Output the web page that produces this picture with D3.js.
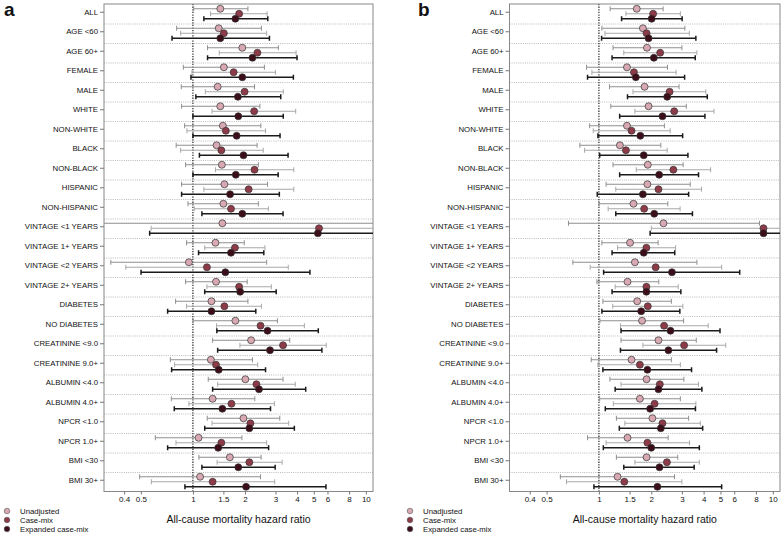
<!DOCTYPE html>
<html><head><meta charset="utf-8">
<script src="https://cdn.jsdelivr.net/npm/d3@7"></script>
<style>body{margin:0;background:#fff}svg{display:block;font-family:"Liberation Sans",Arial,sans-serif}</style>
</head><body><svg id="c" width="783" height="534"></svg>
<script>
const categories = ["ALL","AGE <60","AGE 60+","FEMALE","MALE","WHITE","NON-WHITE","BLACK","NON-BLACK","HISPANIC","NON-HISPANIC","VINTAGE <1 YEARS","VINTAGE 1+ YEARS","VINTAGE <2 YEARS","VINTAGE 2+ YEARS","DIABETES","NO DIABETES","CREATININE <9.0","CREATININE 9.0+","ALBUMIN <4.0","ALBUMIN 4.0+","NPCR <1.0","NPCR 1.0+","BMI <30","BMI 30+"];
const seriesNames = ["Unadjusted","Case-mix","Expanded case-mix"];
const tickValues = [0.4,0.5,1,1.5,2,3,4,5,6,8,10];
const axisTitle = "All-cause mortality hazard ratio";
// [hazard ratio, lower CI, upper CI]
const aUnadjusted = [[1.44,1.01,2.08],[1.41,0.805,2.49],[1.93,1.215,3.12],[1.51,0.88,2.59],[1.39,0.856,2.27],[1.44,0.86,2.44],[1.49,0.895,2.47],[1.37,0.80,2.35],[1.47,0.907,2.39],[1.52,0.86,2.70],[1.50,0.936,2.39],[1.48,0.2,20],[1.35,0.919,1.98],[0.948,0.335,2.67],[1.36,0.907,2.06],[1.28,0.794,2.08],[1.76,1.0,3.08],[2.17,1.30,3.63],[1.27,0.74,2.21],[2.01,1.226,3.32],[1.30,0.75,2.28],[1.96,1.21,3.18],[1.078,0.606,1.92],[1.635,1.083,2.48],[1.10,0.492,2.46]];
const aCaseMix = [[1.85,1.265,2.685],[1.51,0.849,2.67],[2.36,1.42,3.95],[1.72,0.987,3.0],[1.99,1.18,3.33],[2.26,1.29,3.93],[1.55,0.923,2.63],[1.46,0.849,2.55],[2.27,1.35,3.83],[2.10,1.157,3.83],[1.66,1.018,2.73],[5.36,0.573,15],[1.75,1.17,2.61],[1.205,0.409,3.56],[1.85,1.205,2.84],[1.52,0.919,2.49],[2.46,1.37,4.41],[3.32,1.87,5.90],[1.36,0.784,2.37],[2.33,1.39,3.91],[1.67,0.948,2.96],[2.15,1.29,3.58],[1.46,0.798,2.67],[2.12,1.38,3.28],[1.30,0.575,2.97]];
const aExpanded = [[1.76,1.157,2.71],[1.44,0.757,2.77],[2.21,1.215,4.0],[1.93,0.974,3.81],[1.82,1.04,3.22],[1.83,1.0,3.33],[1.79,1.0,3.19],[1.96,1.09,3.55],[1.77,1.0,3.11],[1.64,0.86,3.16],[1.93,1.127,3.32],[5.28,0.562,15],[1.66,1.078,2.57],[1.54,0.501,4.75],[1.875,1.17,3.03],[1.28,0.714,2.31],[2.70,1.375,5.31],[2.79,1.39,5.57],[1.41,0.753,2.63],[2.41,1.30,4.49],[1.48,0.78,2.81],[2.12,1.17,3.86],[1.40,0.714,2.74],[1.83,1.127,2.99],[2.03,0.899,5.88]];
const bUnadjusted = [[1.65,1.16,2.34],[1.79,1.04,3.12],[1.89,1.205,3.0],[1.45,0.849,2.48],[1.83,1.15,2.89],[1.93,1.17,3.18],[1.45,0.884,2.38],[1.32,0.777,2.27],[1.91,1.205,3.05],[1.90,1.10,3.35],[1.58,1.0,2.49],[2.35,0.668,8.38],[1.51,1.04,2.19],[1.61,0.708,3.66],[1.46,0.974,2.21],[1.66,1.054,2.61],[1.77,1.013,3.07],[2.20,1.34,3.63],[1.54,0.903,2.61],[1.88,1.157,3.08],[1.72,1.01,2.94],[2.03,1.26,3.28],[1.46,0.86,2.50],[1.88,1.26,2.84],[1.28,0.60,2.72]];
const bCaseMix = [[2.05,1.43,2.94],[1.88,1.083,3.31],[2.25,1.39,3.66],[1.59,0.911,2.78],[2.55,1.57,4.12],[2.71,1.61,4.59],[1.54,0.927,2.57],[1.43,0.827,2.47],[2.68,1.64,4.39],[2.20,1.25,3.89],[1.82,1.13,2.93],[8.84,2.0,15],[1.875,1.28,2.76],[2.12,0.891,5.08],[1.875,1.24,2.86],[1.91,1.20,3.04],[2.37,1.33,4.25],[3.09,1.79,5.36],[1.72,0.987,2.94],[2.24,1.34,3.74],[2.09,1.21,3.61],[2.32,1.41,3.83],[1.90,1.10,3.32],[2.46,1.61,3.78],[1.40,0.651,3.0]];
const bExpanded = [[2.01,1.35,3.01],[1.93,1.036,3.61],[2.07,1.19,3.58],[1.63,0.86,3.11],[2.47,1.46,4.2],[2.32,1.316,4.07],[1.73,0.987,3.03],[1.81,1.01,3.25],[2.22,1.316,3.74],[1.79,0.978,3.28],[2.08,1.25,3.45],[8.84,1.97,15],[1.81,1.19,2.73],[2.63,1.064,6.45],[1.875,1.19,2.96],[1.75,1.04,2.92],[2.58,1.34,4.97],[2.51,1.33,4.75],[1.90,1.054,3.41],[2.20,1.24,3.91],[1.97,1.088,3.59],[2.27,1.31,3.95],[2.0,1.06,3.78],[2.23,1.39,3.53],[2.17,0.936,5.08]];

const svg = d3.select("#c");
const fills = ["#d8a9b3","#8e3b49","#3b0e19"];
const lineCols = ["#8f8f8f","#a8a8a8","#1a1a1a"];
const lineW = [1,1,1.5];
const offsets = [-5,0,5];
const domain = [0.306, 11];

function panel(id, letter, left, right, letterX, legendX, data){
  const top = 4, bottom = 491.5;
  const x = d3.scaleLog().domain(domain).range([left,right]);
  const y = d3.scaleBand().domain(categories).range([top,bottom]);
  const g = svg.append("g");
  const cp = "clip"+id;
  svg.append("clipPath").attr("id",cp).append("rect").attr("x",left).attr("y",top).attr("width",right-left).attr("height",bottom-top);
  // separators
  g.selectAll(".sep").data(categories.slice(1)).enter().append("line")
    .attr("x1",left).attr("x2",right).attr("y1",d=>y(d)+0.5).attr("y2",d=>y(d)+0.5)
    .attr("stroke","#aaa").attr("stroke-width",0.8).attr("stroke-dasharray","1,1.2");
  // reference line
  g.append("line").attr("x1",x(1)).attr("x2",x(1)).attr("y1",top).attr("y2",bottom)
    .attr("stroke","#111").attr("stroke-width",1.1).attr("stroke-dasharray","1.3,1.3");
  // frame
  g.append("rect").attr("x",left).attr("y",top).attr("width",right-left).attr("height",bottom-top)
    .attr("fill","none").attr("stroke","#888").attr("stroke-width",1);
  // left axis
  const ya = d3.axisLeft(y).tickSize(4).tickSizeOuter(0);
  const yg = g.append("g").attr("transform",`translate(${left},-1.5)`).call(ya);
  yg.select(".domain").remove();
  yg.selectAll(".tick line").attr("stroke","#777");
  yg.selectAll(".tick text").attr("font-size","7.8px").attr("fill","#111").attr("x",-6);
  // bottom axis
  const xa = d3.axisBottom(x).tickValues(tickValues).tickFormat(d=>String(d)).tickSize(3).tickSizeOuter(0);
  const xg = g.append("g").attr("transform",`translate(0,${bottom})`).call(xa);
  xg.select(".domain").remove();
  xg.selectAll(".tick line").attr("stroke","#777");
  xg.selectAll(".tick text").attr("font-size","8px").attr("fill","#111").attr("dy","0.75em").attr("y",4);
  g.append("text").attr("x",(left+right)/2).attr("y",523).attr("text-anchor","middle")
    .attr("font-size","10.5px").attr("fill","#111").text(axisTitle);
  // marks
  const mg = g.append("g").attr("clip-path",`url(#${cp})`);
  data.forEach((ser,si)=>{
    ser.forEach((d,i)=>{
      const cy = y(categories[i]) + y.bandwidth()/2 + offsets[si];
      const [hr,lo,hi] = d;
      mg.append("line").attr("x1",x(lo)).attr("x2",x(hi)).attr("y1",cy).attr("y2",cy)
        .attr("stroke",lineCols[si]).attr("stroke-width",lineW[si]);
      [lo,hi].forEach(v=>{
        mg.append("line").attr("x1",x(v)).attr("x2",x(v)).attr("y1",cy-2.5).attr("y2",cy+2.5)
          .attr("stroke",lineCols[si]).attr("stroke-width",lineW[si]);
      });
    });
  });
  data.forEach((ser,si)=>{
    ser.forEach((d,i)=>{
      const cy = y(categories[i]) + y.bandwidth()/2 + offsets[si];
      mg.append("circle").attr("cx",x(d[0])).attr("cy",cy).attr("r",3.5)
        .attr("fill",fills[si]).attr("stroke","#333").attr("stroke-width",0.7);
    });
  });
  // panel letter
  svg.append("text").attr("x",letterX).attr("y",16).attr("font-size","19px").attr("font-weight","bold")
    .attr("fill","#111").text(letter);
  // legend
  seriesNames.forEach((s,si)=>{
    const ly = 511 + si*9;
    svg.append("circle").attr("cx",legendX).attr("cy",ly).attr("r",2.8)
      .attr("fill",fills[si]).attr("stroke","#555").attr("stroke-width",0.6);
    svg.append("text").attr("x",legendX+13).attr("y",ly).attr("dy","0.35em")
      .attr("font-size","7.8px").attr("fill","#111").text(s);
  });
}
panel("a","a",104,373,4,7,[aUnadjusted,aCaseMix,aExpanded]);
panel("b","b",509.5,780,418,410,[bUnadjusted,bCaseMix,bExpanded]);
</script></body></html>
